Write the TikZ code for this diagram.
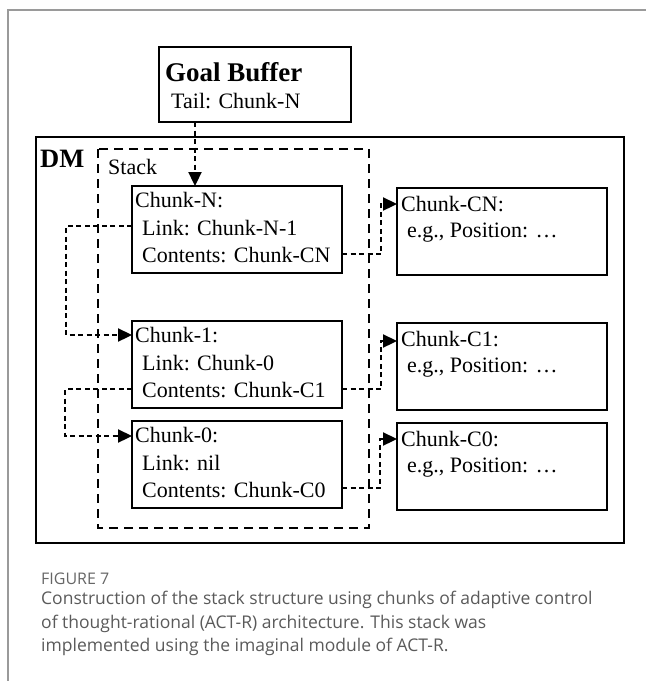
\documentclass[tikz,border=0pt]{standalone}
\usepackage{fontspec}
\setmainfont{Liberation Serif}
\newfontfamily\capfont{Open Sans}
\usetikzlibrary{arrows.meta,calc}

\definecolor{framegray}{HTML}{9A9A9A}
\definecolor{capgray}{HTML}{5A5A5A}
\definecolor{figgray}{HTML}{666666}

\tikzset{
  box/.style={draw=black, line width=2.3pt, inner sep=0pt, outer sep=0pt,
    anchor=north west, minimum width=#1},
  chunkbox/.style={box=210pt, minimum height=87pt},
  valbox/.style={box=210pt, minimum height=87pt},
  txt/.style={anchor=base west, inner sep=0pt, font=\fontsize{22}{26}\selectfont},
  stackline/.style={line width=2.3pt, dash pattern=on 9pt off 6pt},
  link/.style={line width=2.3pt, dash pattern=on 5pt off 3.5pt,
    -{Triangle[length=14pt,width=13pt]}},
}

\begin{document}
\begin{tikzpicture}[x=1pt,y=-1pt]
  \useasboundingbox (0,0) rectangle (646,681);

  % page frame (top and left rules)
  \draw[framegray, line width=1.5pt] (646,10) -- (8,10) -- (8,681);

  % goal buffer
  \node[box=192pt, minimum height=75pt] (goal) at (159,47) {};
  \node[anchor=base west, inner sep=0pt, font=\fontsize{27}{30}\selectfont\bfseries]
    (goaltitle) at (165,81) {Goal Buffer};
  \node[txt] (goaltail) at (171,108) {Tail: Chunk-N};

  % declarative memory
  \node[box=588pt, minimum height=406pt] (dm) at (36,137) {};
  \node[anchor=base west, inner sep=0pt, font=\fontsize{26.5}{30}\selectfont\bfseries]
    (dmlabel) at (40,167) {DM};

  % stack region
  \draw[stackline] (98,149) rectangle (369,528);
  \node[txt] (stacklabel) at (108,174) {Stack};

  % stack chunks
  \node[chunkbox] (cN) at (132,186) {};
  \node[chunkbox] (c1) at (132,321) {};
  \node[chunkbox] (c0) at (132,421) {};

  \node[txt] (cNa) at ($(cN.north west)+(3,21)$) {Chunk-N:};
  \node[txt] (cNb) at ($(cN.north west)+(10,49)$) {Link: Chunk-N-1};
  \node[txt] (cNc) at ($(cN.north west)+(10,76)$) {Contents: Chunk-CN};

  \node[txt] (c1a) at ($(c1.north west)+(3,21)$) {Chunk-1:};
  \node[txt] (c1b) at ($(c1.north west)+(10,49)$) {Link: Chunk-0};
  \node[txt] (c1c) at ($(c1.north west)+(10,76)$) {Contents: Chunk-C1};

  \node[txt] (c0a) at ($(c0.north west)+(3,21)$) {Chunk-0:};
  \node[txt] (c0b) at ($(c0.north west)+(10,49)$) {Link: nil};
  \node[txt] (c0c) at ($(c0.north west)+(10,76)$) {Contents: Chunk-C0};

  % content chunks
  \node[valbox] (cCN) at (397,188) {};
  \node[valbox] (cC1) at (397,323) {};
  \node[valbox] (cC0) at (397,423) {};

  \node[txt] (cCNa) at ($(cCN.north west)+(4,23)$) {Chunk-CN:};
  \node[txt] (cCNb) at ($(cCN.north west)+(10,49)$) {e.g., Position: \ldots};
  \node[txt] (cC1a) at ($(cC1.north west)+(4,23)$) {Chunk-C1:};
  \node[txt] (cC1b) at ($(cC1.north west)+(10,49)$) {e.g., Position: \ldots};
  \node[txt] (cC0a) at ($(cC0.north west)+(4,23)$) {Chunk-C0:};
  \node[txt] (cC0b) at ($(cC0.north west)+(10,49)$) {e.g., Position: \ldots};

  % goal buffer points at the top of the stack
  \coordinate (gbout) at ($(goal.south west)+(36,0)$);
  \draw[link] (gbout) -- (gbout |- cN.north);

  % links down the stack
  \draw[link] ($(cN.north west)+(0,40)$) -- ++(-66,0) |- ($(c1.north west)+(0,14)$);
  \draw[link] ($(c1.north west)+(0,68)$) -- ++(-67,0) |- ($(c0.north west)+(0,15)$);

  % contents references
  \draw[link] ($(cN.north east)+(0,68)$) -- ++(39,0) |- ($(cCN.north west)+(0,16)$);
  \draw[link] ($(c1.north east)+(0,68)$) -- ++(39,0) |- ($(cC1.north west)+(0,18)$);
  \draw[link] ($(c0.north east)+(0,67)$) -- ++(38,0) |- ($(cC0.north west)+(0,16)$);

  % caption
  \node[anchor=base west, inner sep=0pt, text=figgray,
    font=\capfont\fontsize{16}{18}\selectfont] (fignum) at (41,584) {FIGURE 7};
  \node[anchor=north west, inner sep=0pt, text=capgray, align=left,
    font=\capfont\fontsize{17.5}{23.5}\selectfont] (figcap) at (41,591)
    {Construction of the stack structure using chunks of adaptive control\\
     of thought-rational (ACT-R) architecture. This stack was\\
     implemented using the imaginal module of ACT-R.};
\end{tikzpicture}
\end{document}
